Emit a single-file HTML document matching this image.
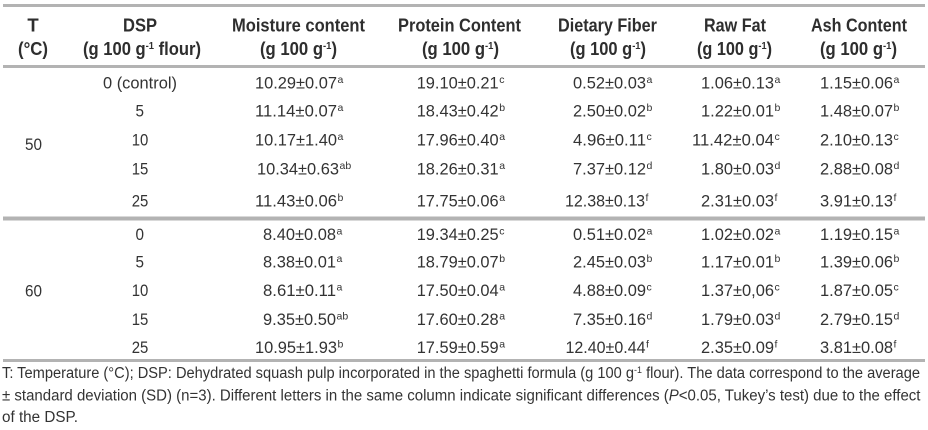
<!DOCTYPE html>
<html>
<head>
<meta charset="utf-8">
<style>
html,body{margin:0;padding:0;background:#fff;}
body{width:928px;height:430px;overflow:hidden;}
svg{display:block;}
.h{font-family:"Liberation Sans",Arial,sans-serif;font-weight:bold;font-size:18.5px;fill:#2e2e2e;}
.v{font-family:"Liberation Sans",Arial,sans-serif;font-size:16.5px;fill:#333;}
.s{font-family:"Liberation Sans",Arial,sans-serif;font-size:10.5px;fill:#333;}
.f{font-family:"Liberation Sans",Arial,sans-serif;font-size:15.5px;fill:#333;}
</style>
</head>
<body>
<svg width="928" height="430" viewBox="0 0 928 430" xmlns="http://www.w3.org/2000/svg">
<rect x="0" y="0" width="928" height="430" fill="#fff"/>
<!-- rules -->
<rect x="3" y="4" width="922" height="3" fill="#b3b3b3"/>
<rect x="3" y="65" width="922" height="3" fill="#b3b3b3"/>
<rect x="3" y="216.5" width="922" height="4" fill="#b3b3b3"/>
<rect x="3" y="359" width="922" height="3" fill="#b3b3b3"/>

<!-- header -->
<text class="h" x="33" y="31.5" text-anchor="middle">T</text>
<text class="h" x="18" y="55" textLength="30" lengthAdjust="spacingAndGlyphs">(°C)</text>
<text class="h" x="123" y="31.5" textLength="34" lengthAdjust="spacingAndGlyphs">DSP</text>
<text class="h" x="83" y="55" textLength="118" lengthAdjust="spacingAndGlyphs">(g 100 g<tspan dy="-6" font-size="10.5">-1</tspan><tspan dy="6"> flour)</tspan></text>
<text class="h" x="232" y="31.5" textLength="133" lengthAdjust="spacingAndGlyphs">Moisture content</text>
<text class="h" x="260" y="55" textLength="77" lengthAdjust="spacingAndGlyphs">(g 100 g<tspan dy="-6" font-size="10.5">-1</tspan><tspan dy="6">)</tspan></text>
<text class="h" x="398" y="31.5" textLength="123" lengthAdjust="spacingAndGlyphs">Protein Content</text>
<text class="h" x="422" y="55" textLength="77" lengthAdjust="spacingAndGlyphs">(g 100 g<tspan dy="-6" font-size="10.5">-1</tspan><tspan dy="6">)</tspan></text>
<text class="h" x="558" y="31.5" textLength="99" lengthAdjust="spacingAndGlyphs">Dietary Fiber</text>
<text class="h" x="570" y="55" textLength="76" lengthAdjust="spacingAndGlyphs">(g 100 g<tspan dy="-6" font-size="10.5">-1</tspan><tspan dy="6">)</tspan></text>
<text class="h" x="704" y="31.5" textLength="62" lengthAdjust="spacingAndGlyphs">Raw Fat</text>
<text class="h" x="697" y="55" textLength="75" lengthAdjust="spacingAndGlyphs">(g 100 g<tspan dy="-6" font-size="10.5">-1</tspan><tspan dy="6">)</tspan></text>
<text class="h" x="811" y="31.5" textLength="96" lengthAdjust="spacingAndGlyphs">Ash Content</text>
<text class="h" x="820" y="55" textLength="77" lengthAdjust="spacingAndGlyphs">(g 100 g<tspan dy="-6" font-size="10.5">-1</tspan><tspan dy="6">)</tspan></text>

<!-- T column -->
<text class="v" x="25" y="150" textLength="17" lengthAdjust="spacingAndGlyphs">50</text>
<text class="v" x="25" y="296.5" textLength="17" lengthAdjust="spacingAndGlyphs">60</text>

<!-- DSP column -->
<text class="v" x="103" y="88.7" textLength="74" lengthAdjust="spacingAndGlyphs">0 (control)</text>
<text class="v" x="135.5" y="116.5" textLength="8.5" lengthAdjust="spacingAndGlyphs">5</text>
<text class="v" x="131.7" y="145.5" textLength="16.6" lengthAdjust="spacingAndGlyphs">10</text>
<text class="v" x="131.7" y="174.5" textLength="16.6" lengthAdjust="spacingAndGlyphs">15</text>
<text class="v" x="131.7" y="206.5" textLength="16.6" lengthAdjust="spacingAndGlyphs">25</text>
<text class="v" x="135.5" y="240" textLength="8.5" lengthAdjust="spacingAndGlyphs">0</text>
<text class="v" x="135.5" y="267.5" textLength="8.5" lengthAdjust="spacingAndGlyphs">5</text>
<text class="v" x="131.7" y="296" textLength="16.6" lengthAdjust="spacingAndGlyphs">10</text>
<text class="v" x="131.7" y="325" textLength="16.6" lengthAdjust="spacingAndGlyphs">15</text>
<text class="v" x="131.7" y="353" textLength="16.6" lengthAdjust="spacingAndGlyphs">25</text>

<!-- Section 1 -->
<text class="v" x="255" y="88.7" textLength="82" lengthAdjust="spacingAndGlyphs">10.29±0.07</text><text class="s" x="337.5" y="83.2">a</text>
<text class="v" x="416.7" y="88.7" textLength="82" lengthAdjust="spacingAndGlyphs">19.10±0.21</text><text class="s" x="499.2" y="83.2">c</text>
<text class="v" x="573" y="88.7" textLength="73" lengthAdjust="spacingAndGlyphs">0.52±0.03</text><text class="s" x="646.5" y="83.2">a</text>
<text class="v" x="701" y="88.7" textLength="73" lengthAdjust="spacingAndGlyphs">1.06±0.13</text><text class="s" x="774.5" y="83.2">a</text>
<text class="v" x="820" y="88.7" textLength="73" lengthAdjust="spacingAndGlyphs">1.15±0.06</text><text class="s" x="893.5" y="83.2">a</text>

<text class="v" x="255" y="116.5" textLength="82" lengthAdjust="spacingAndGlyphs">11.14±0.07</text><text class="s" x="337.5" y="111">a</text>
<text class="v" x="416.7" y="116.5" textLength="82" lengthAdjust="spacingAndGlyphs">18.43±0.42</text><text class="s" x="499.2" y="111">b</text>
<text class="v" x="573" y="116.5" textLength="73" lengthAdjust="spacingAndGlyphs">2.50±0.02</text><text class="s" x="646.5" y="111">b</text>
<text class="v" x="701" y="116.5" textLength="73" lengthAdjust="spacingAndGlyphs">1.22±0.01</text><text class="s" x="774.5" y="111">b</text>
<text class="v" x="820" y="116.5" textLength="73" lengthAdjust="spacingAndGlyphs">1.48±0.07</text><text class="s" x="893.5" y="111">b</text>

<text class="v" x="255" y="145.5" textLength="82" lengthAdjust="spacingAndGlyphs">10.17±1.40</text><text class="s" x="337.5" y="140">a</text>
<text class="v" x="416.7" y="145.5" textLength="82" lengthAdjust="spacingAndGlyphs">17.96±0.40</text><text class="s" x="499.2" y="140">a</text>
<text class="v" x="573" y="145.5" textLength="73" lengthAdjust="spacingAndGlyphs">4.96±0.11</text><text class="s" x="646.5" y="140">c</text>
<text class="v" x="692" y="145.5" textLength="82" lengthAdjust="spacingAndGlyphs">11.42±0.04</text><text class="s" x="774.5" y="140">c</text>
<text class="v" x="820" y="145.5" textLength="73" lengthAdjust="spacingAndGlyphs">2.10±0.13</text><text class="s" x="893.5" y="140">c</text>

<text class="v" x="257" y="174.5" textLength="82" lengthAdjust="spacingAndGlyphs">10.34±0.63</text><text class="s" x="339.5" y="169">ab</text>
<text class="v" x="416.7" y="174.5" textLength="82" lengthAdjust="spacingAndGlyphs">18.26±0.31</text><text class="s" x="499.2" y="169">a</text>
<text class="v" x="573" y="174.5" textLength="73" lengthAdjust="spacingAndGlyphs">7.37±0.12</text><text class="s" x="646.5" y="169">d</text>
<text class="v" x="701" y="174.5" textLength="73" lengthAdjust="spacingAndGlyphs">1.80±0.03</text><text class="s" x="774.5" y="169">d</text>
<text class="v" x="820" y="174.5" textLength="73" lengthAdjust="spacingAndGlyphs">2.88±0.08</text><text class="s" x="893.5" y="169">d</text>

<text class="v" x="255" y="206.5" textLength="82" lengthAdjust="spacingAndGlyphs">11.43±0.06</text><text class="s" x="337.5" y="201">b</text>
<text class="v" x="416.7" y="206.5" textLength="82" lengthAdjust="spacingAndGlyphs">17.75±0.06</text><text class="s" x="499.2" y="201">a</text>
<text class="v" x="565" y="206.5" textLength="80" lengthAdjust="spacingAndGlyphs">12.38±0.13</text><text class="s" x="645.5" y="201">f</text>
<text class="v" x="701" y="206.5" textLength="73" lengthAdjust="spacingAndGlyphs">2.31±0.03</text><text class="s" x="774.5" y="201">f</text>
<text class="v" x="820" y="206.5" textLength="73" lengthAdjust="spacingAndGlyphs">3.91±0.13</text><text class="s" x="893.5" y="201">f</text>

<!-- Section 2 -->
<text class="v" x="263" y="240" textLength="73" lengthAdjust="spacingAndGlyphs">8.40±0.08</text><text class="s" x="336.5" y="234.5">a</text>
<text class="v" x="416.7" y="240" textLength="82" lengthAdjust="spacingAndGlyphs">19.34±0.25</text><text class="s" x="499.2" y="234.5">c</text>
<text class="v" x="573" y="240" textLength="73" lengthAdjust="spacingAndGlyphs">0.51±0.02</text><text class="s" x="646.5" y="234.5">a</text>
<text class="v" x="701" y="240" textLength="73" lengthAdjust="spacingAndGlyphs">1.02±0.02</text><text class="s" x="774.5" y="234.5">a</text>
<text class="v" x="820" y="240" textLength="73" lengthAdjust="spacingAndGlyphs">1.19±0.15</text><text class="s" x="893.5" y="234.5">a</text>

<text class="v" x="263" y="267.5" textLength="73" lengthAdjust="spacingAndGlyphs">8.38±0.01</text><text class="s" x="336.5" y="262">a</text>
<text class="v" x="416.7" y="267.5" textLength="82" lengthAdjust="spacingAndGlyphs">18.79±0.07</text><text class="s" x="499.2" y="262">b</text>
<text class="v" x="573" y="267.5" textLength="73" lengthAdjust="spacingAndGlyphs">2.45±0.03</text><text class="s" x="646.5" y="262">b</text>
<text class="v" x="701" y="267.5" textLength="73" lengthAdjust="spacingAndGlyphs">1.17±0.01</text><text class="s" x="774.5" y="262">b</text>
<text class="v" x="820" y="267.5" textLength="73" lengthAdjust="spacingAndGlyphs">1.39±0.06</text><text class="s" x="893.5" y="262">b</text>

<text class="v" x="263" y="296" textLength="73" lengthAdjust="spacingAndGlyphs">8.61±0.11</text><text class="s" x="336.5" y="290.5">a</text>
<text class="v" x="416.7" y="296" textLength="82" lengthAdjust="spacingAndGlyphs">17.50±0.04</text><text class="s" x="499.2" y="290.5">a</text>
<text class="v" x="573" y="296" textLength="73" lengthAdjust="spacingAndGlyphs">4.88±0.09</text><text class="s" x="646.5" y="290.5">c</text>
<text class="v" x="701" y="296" textLength="73" lengthAdjust="spacingAndGlyphs">1.37±0,06</text><text class="s" x="774.5" y="290.5">c</text>
<text class="v" x="820" y="296" textLength="73" lengthAdjust="spacingAndGlyphs">1.87±0.05</text><text class="s" x="893.5" y="290.5">c</text>

<text class="v" x="263" y="325" textLength="73" lengthAdjust="spacingAndGlyphs">9.35±0.50</text><text class="s" x="336.5" y="319.5">ab</text>
<text class="v" x="416.7" y="325" textLength="82" lengthAdjust="spacingAndGlyphs">17.60±0.28</text><text class="s" x="499.2" y="319.5">a</text>
<text class="v" x="573" y="325" textLength="73" lengthAdjust="spacingAndGlyphs">7.35±0.16</text><text class="s" x="646.5" y="319.5">d</text>
<text class="v" x="701" y="325" textLength="73" lengthAdjust="spacingAndGlyphs">1.79±0.03</text><text class="s" x="774.5" y="319.5">d</text>
<text class="v" x="820" y="325" textLength="73" lengthAdjust="spacingAndGlyphs">2.79±0.15</text><text class="s" x="893.5" y="319.5">d</text>

<text class="v" x="255" y="353" textLength="82" lengthAdjust="spacingAndGlyphs">10.95±1.93</text><text class="s" x="337.5" y="347.5">b</text>
<text class="v" x="416.7" y="353" textLength="82" lengthAdjust="spacingAndGlyphs">17.59±0.59</text><text class="s" x="499.2" y="347.5">a</text>
<text class="v" x="565.5" y="353" textLength="80" lengthAdjust="spacingAndGlyphs">12.40±0.44</text><text class="s" x="646" y="347.5">f</text>
<text class="v" x="701" y="353" textLength="73" lengthAdjust="spacingAndGlyphs">2.35±0.09</text><text class="s" x="774.5" y="347.5">f</text>
<text class="v" x="820" y="353" textLength="73" lengthAdjust="spacingAndGlyphs">3.81±0.08</text><text class="s" x="893.5" y="347.5">f</text>

<!-- footnote -->
<text class="f" x="2" y="378" textLength="918" lengthAdjust="spacingAndGlyphs">T: Temperature (°C); DSP: Dehydrated squash pulp incorporated in the spaghetti formula (g 100 g<tspan dy="-5" font-size="9.5">-1</tspan><tspan dy="5"> flour). The data correspond to the average</tspan></text>
<text class="f" x="2" y="400.5" textLength="918.5" lengthAdjust="spacingAndGlyphs">± standard deviation (SD) (n=3). Different letters in the same column indicate significant differences (<tspan font-style="italic">P</tspan>&lt;0.05, Tukey’s test) due to the effect</text>
<text class="f" x="2" y="422" textLength="76" lengthAdjust="spacingAndGlyphs">of the DSP.</text>
</svg>
</body>
</html>
